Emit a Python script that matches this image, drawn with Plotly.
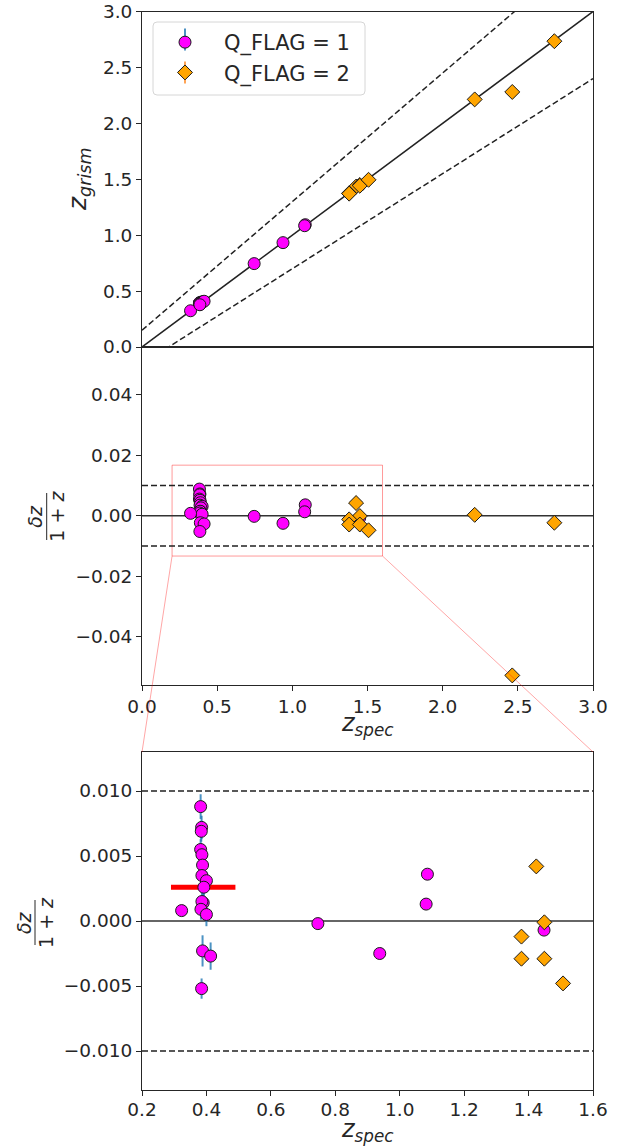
import numpy as np
import plotly.graph_objects as go

# ---- data: spectroscopic redshift and normalised grism offset dz/(1+z) ----
zspec_q1 = [0.382, 0.385, 0.384, 0.382, 0.386, 0.388, 0.386, 0.400, 0.392, 0.390, 0.386,
            0.383, 0.400, 0.323, 0.388, 0.413, 0.385, 0.746, 0.938, 1.086, 1.082, 1.448]
dz_q1 = [0.0088, 0.0072, 0.0069, 0.0055, 0.0051, 0.0043, 0.0035, 0.0031, 0.0026, 0.0014, 0.0015,
         0.0009, 0.0005, 0.0008, -0.0023, -0.0027, -0.0052, -0.0002, -0.0025, 0.0036, 0.0013, -0.0007]
dz_err_q1 = [0.00095, 0.0009, 0.0008, 0.0008, 0.0008, 0.0008, 0.0008, 0.0007, 0.0008, 0.0008, 0.0008,
             0.0008, 0.0009, 0.0003, 0.0012, 0.00105, 0.00078, 0.0003, 0.0003, 0.0003, 0.0003, 0.0003]

zspec_q2 = [1.424, 1.449, 1.378, 1.378, 1.449, 1.507, 2.213, 2.463, 2.743]
dz_q2 = [0.0042, -0.0001, -0.0012, -0.0029, -0.0029, -0.0048, 0.0003, -0.0527, -0.0023]
dz_err_q2 = [0.0003, 0.0003, 0.0003, 0.0003, 0.0003, 0.0003, 0.0003, 0.0003, 0.0003]

# median offset of the z~0.4 group and the span it is drawn over
median_dz = 0.0026
median_span = [0.29, 0.49]

outlier_frac = 0.15      # |dz|/(1+z) outlier boundary in the top panel
nmad_limit = 0.01        # dashed limits in the residual panels

# ---- page geometry ----
W, H = 624, 1148
FONT = "DejaVu Sans"
INK = "#262626"


def px(x):
    return x / W


def py(y):
    return 1 - y / H


xdom = [px(142), px(593)]
top_dom = [py(347), py(11.5)]
mid_dom = [py(684.5), py(347)]
bot_dom = [py(1090), py(752)]

top_rng = [0, 3]
mid_xrng = [0, 3]
mid_yrng = [-0.0557, 0.0557]
bot_xrng = [0.2, 1.6]
bot_yrng = [-0.013, 0.013]

zoom_box_x = [0.2, 1.6]
zoom_box_y = [-0.0133, 0.0167]


def to_paper(xv, yv, xr, yr, xd, yd):
    fx = xd[0] + (xv - xr[0]) / (xr[1] - xr[0]) * (xd[1] - xd[0])
    fy = yd[0] + (yv - yr[0]) / (yr[1] - yr[0]) * (yd[1] - yd[0])
    return fx, fy


zs1 = np.array(zspec_q1)
zs2 = np.array(zspec_q2)
zg1 = zs1 + np.array(dz_q1) * (1 + zs1)
zg2 = zs2 + np.array(dz_q2) * (1 + zs2)
zg_err1 = np.array(dz_err_q1) * (1 + zs1)
zg_err2 = np.array(dz_err_q2) * (1 + zs2)

MAG = "#ff00ff"
ORA = "#ffa500"
EDGE = "#1a1a1a"
ERR1 = "rgba(31,119,180,0.8)"
ERR2 = "rgba(255,127,14,0.7)"

fig = go.Figure()

# ---- top panel: z_grism vs z_spec ----
zl = np.array(top_rng, dtype=float)
for sgn in (1, -1):
    fig.add_trace(go.Scatter(x=zl, y=zl + sgn * outlier_frac * (1 + zl), mode="lines",
                             line=dict(color="#222", width=1.5, dash="6px,3px"),
                             showlegend=False, hoverinfo="skip", xaxis="x", yaxis="y"))
fig.add_trace(go.Scatter(x=zl, y=zl, mode="lines", line=dict(color="#222", width=1.5),
                         showlegend=False, hoverinfo="skip", xaxis="x", yaxis="y"))


def add_points(xv, yv, err, sym, col, ecol, size, name, xa, ya, legend):
    fig.add_trace(go.Scatter(
        x=xv, y=yv, mode="markers", name=name, showlegend=legend,
        marker=dict(symbol=sym, color=col, size=size, line=dict(color=EDGE, width=1)),
        error_y=dict(type="data", array=err, color=ecol, thickness=2, width=0),
        xaxis=xa, yaxis=ya))


add_points(zs1, zg1, zg_err1, "circle", MAG, ERR1, 12, "Q_FLAG = 1", "x", "y", True)
add_points(zs2, zg2, zg_err2, "diamond", ORA, ERR2, 11.5, "Q_FLAG = 2", "x", "y", True)

# ---- middle and bottom panels: residuals ----
for xa, ya, xr in (("x2", "y2", mid_xrng), ("x3", "y3", bot_xrng)):
    xx = np.array(xr, dtype=float)
    for lvl in (nmad_limit, -nmad_limit):
        fig.add_trace(go.Scatter(x=xx, y=[lvl, lvl], mode="lines",
                                 line=dict(color="#222", width=1.5, dash="6px,3px"),
                                 showlegend=False, hoverinfo="skip", xaxis=xa, yaxis=ya))
    fig.add_trace(go.Scatter(x=xx, y=[0, 0], mode="lines", line=dict(color="#333", width=1.5),
                             showlegend=False, hoverinfo="skip", xaxis=xa, yaxis=ya))
    if xa == "x3":
        fig.add_trace(go.Scatter(x=median_span, y=[median_dz, median_dz], mode="lines",
                                 line=dict(color="#ff0000", width=5),
                                 showlegend=False, hoverinfo="skip", xaxis=xa, yaxis=ya))
    add_points(zs1, dz_q1, dz_err_q1, "circle", MAG, ERR1, 12, "Q_FLAG = 1", xa, ya, False)
    add_points(zs2, dz_q2, dz_err_q2, "diamond", ORA, ERR2, 11.5, "Q_FLAG = 2", xa, ya, False)

# ---- zoom indicator box and connectors ----
shapes = [dict(type="rect", xref="x2", yref="y2", x0=zoom_box_x[0], x1=zoom_box_x[1],
               y0=zoom_box_y[0], y1=zoom_box_y[1],
               line=dict(color="rgba(255,0,0,0.4)", width=1), layer="below")]
for xv in zoom_box_x:
    a = to_paper(xv, zoom_box_y[0], mid_xrng, mid_yrng, xdom, mid_dom)
    b = to_paper(xv, bot_yrng[1], bot_xrng, bot_yrng, xdom, bot_dom)
    shapes.append(dict(type="line", xref="paper", yref="paper", x0=a[0], y0=a[1], x1=b[0], y1=b[1],
                       line=dict(color="rgba(255,0,0,0.35)", width=1), layer="above"))

# ---- legend frame (rounded) and error-bar strokes behind the legend symbols ----
LEG_L, LEG_T, LEG_R, LEG_B, RAD = 153, 22, 365, 95, 4
frame = (f"M {px(LEG_L + RAD)},{py(LEG_T)} L {px(LEG_R - RAD)},{py(LEG_T)} "
         f"Q {px(LEG_R)},{py(LEG_T)} {px(LEG_R)},{py(LEG_T + RAD)} "
         f"L {px(LEG_R)},{py(LEG_B - RAD)} Q {px(LEG_R)},{py(LEG_B)} {px(LEG_R - RAD)},{py(LEG_B)} "
         f"L {px(LEG_L + RAD)},{py(LEG_B)} Q {px(LEG_L)},{py(LEG_B)} {px(LEG_L)},{py(LEG_B - RAD)} "
         f"L {px(LEG_L)},{py(LEG_T + RAD)} Q {px(LEG_L)},{py(LEG_T)} {px(LEG_L + RAD)},{py(LEG_T)} Z")
shapes.append(dict(type="path", path=frame, xref="paper", yref="paper",
                   fillcolor="rgba(255,255,255,0.8)", line=dict(color="#d6d6d6", width=1),
                   layer="above"))
LEG_SYM_X = 185
for yc, col in ((39.5, ERR1), (72.5, ERR2)):
    shapes.append(dict(type="line", xref="paper", yref="paper",
                       x0=px(LEG_SYM_X), x1=px(LEG_SYM_X), y0=py(yc - 11), y1=py(yc + 11),
                       line=dict(color=col, width=2), layer="above"))

# fraction bars for the dz/(1+z) labels
annotations = []


def frac_label(xbar, ycen, half):
    shapes.append(dict(type="line", xref="paper", yref="paper",
                       x0=px(xbar), x1=px(xbar), y0=py(ycen - half), y1=py(ycen + half),
                       line=dict(color=INK, width=1)))
    annotations.append(dict(text="<i>δz</i>", x=px(xbar - 11.5), y=py(ycen), xref="paper", yref="paper",
                            showarrow=False, textangle=-90, xanchor="center", yanchor="middle",
                            font=dict(size=19, color=INK, family=FONT)))
    annotations.append(dict(text="1 + <i>z</i>", x=px(xbar + 10.5), y=py(ycen), xref="paper", yref="paper",
                            showarrow=False, textangle=-90, xanchor="center", yanchor="middle",
                            font=dict(size=19, color=INK, family=FONT)))


frac_label(46.7, 516.5, 23.5)
frac_label(35.0, 922.5, 22.5)

ztitle = dict(showarrow=False, xref="paper", yref="paper", xanchor="center", yanchor="middle",
              font=dict(size=24, color=INK, family=FONT))
annotations.append(dict(ztitle, text="<i>z</i><sub><i>grism</i></sub>", x=px(79), y=py(180), textangle=-90,
                        font=dict(size=25, color=INK, family=FONT)))
annotations.append(dict(ztitle, text="<i>z</i><sub><i>spec</i></sub>", x=px(367.5), y=py(724)))
annotations.append(dict(ztitle, text="<i>z</i><sub><i>spec</i></sub>", x=px(367.5), y=py(1148),
                        yanchor="bottom"))

axis_common = dict(showgrid=False, zeroline=False, showline=True, mirror=True, linecolor=INK,
                   linewidth=1, ticks="outside", ticklen=5, tickwidth=1, tickcolor=INK,
                   automargin=False, tickfont=dict(size=18.5, color=INK, family=FONT))

fig.update_layout(
    width=W, height=H, margin=dict(l=0, r=0, t=0, b=0, pad=0, autoexpand=False),
    paper_bgcolor="white", plot_bgcolor="white",
    font=dict(family=FONT, color=INK),
    showlegend=True,
    legend=dict(x=px(LEG_L), y=py(LEG_T), xanchor="left", yanchor="top",
                bgcolor="rgba(0,0,0,0)", borderwidth=0, itemwidth=68, indentation=-7,
                font=dict(size=21, color=INK, family=FONT), tracegroupgap=0),
    xaxis=dict(axis_common, domain=xdom, range=top_rng, anchor="y", showticklabels=False, ticks=""),
    yaxis=dict(axis_common, domain=top_dom, range=top_rng, anchor="x",
               tickvals=[0, 0.5, 1.0, 1.5, 2.0, 2.5, 3.0], tickformat=".1f"),
    xaxis2=dict(axis_common, domain=xdom, range=mid_xrng, anchor="y2",
                tickvals=[0, 0.5, 1.0, 1.5, 2.0, 2.5, 3.0], tickformat=".1f"),
    yaxis2=dict(axis_common, domain=mid_dom, range=mid_yrng, anchor="x2",
                tickvals=[-0.04, -0.02, 0, 0.02, 0.04], tickformat=".2f"),
    xaxis3=dict(axis_common, domain=xdom, range=bot_xrng, anchor="y3", ticklabelstandoff=-2,
                tickvals=[0.2, 0.4, 0.6, 0.8, 1.0, 1.2, 1.4, 1.6], tickformat=".1f"),
    yaxis3=dict(axis_common, domain=bot_dom, range=bot_yrng, anchor="x3",
                tickvals=[-0.01, -0.005, 0, 0.005, 0.01], tickformat=".3f"),
    shapes=shapes,
    annotations=annotations,
)

fig.write_html("out.html")
